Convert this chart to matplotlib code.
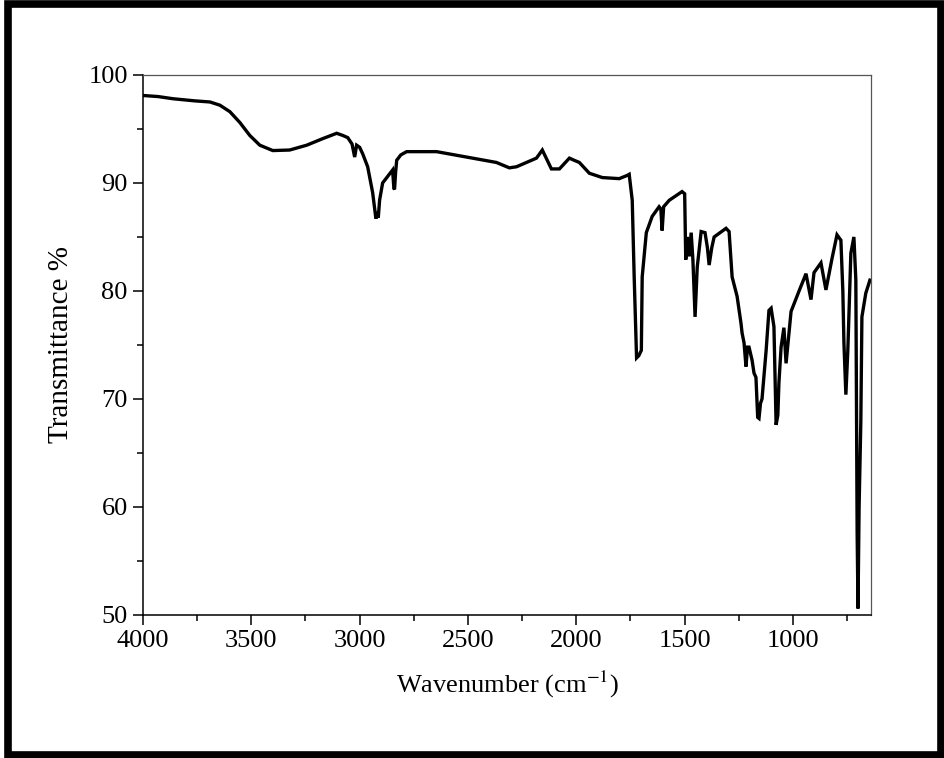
#!/usr/bin/env python3
"""FTIR spectrum: transmittance vs wavenumber."""

import matplotlib
matplotlib.use("Agg")
import matplotlib.pyplot as plt  # noqa: E402
from matplotlib.patches import Rectangle  # noqa: E402
from matplotlib.ticker import MultipleLocator  # noqa: E402


# ---------------------------------------------------------------------------
# Data
# ---------------------------------------------------------------------------

wavenumber = [
    4000, 3930, 3862, 3760, 3691, 3645, 3599, 3553, 3507, 3461,
    3401, 3323, 3244, 3171, 3106, 3078, 3055, 3035, 3023, 3014,
    3000, 2986, 2963, 2940, 2925, 2918, 2914, 2908, 2894, 2871,
    2848, 2842, 2839, 2834, 2829, 2810, 2783, 2645, 2507, 2369,
    2309, 2276, 2184, 2157, 2115, 2078, 2032, 2010, 1986, 1940,
    1880, 1802, 1765, 1756, 1742, 1733, 1722, 1712, 1700, 1696,
    1677, 1650, 1618, 1610, 1604, 1597, 1571, 1512, 1500, 1495,
    1488, 1479, 1470, 1462, 1452, 1442, 1424, 1406, 1395, 1387,
    1375, 1364, 1309, 1295, 1281, 1258, 1240, 1235, 1226, 1217,
    1210, 1203, 1189, 1180, 1171, 1163, 1157, 1150, 1143, 1124,
    1111, 1101, 1088, 1078, 1070, 1065, 1055, 1042, 1032, 1009,
    982, 972, 940, 917, 903, 871, 848, 820, 797, 779,
    770, 765, 756, 747, 733, 719, 710, 704, 700, 695,
    687, 682, 664, 650, 645,
]

transmittance = [
    98.1, 98.0, 97.8, 97.6, 97.5, 97.2, 96.6, 95.6, 94.4, 93.5,
    93.0, 93.05, 93.5, 94.1, 94.6, 94.4, 94.2, 93.6, 92.4, 93.5,
    93.3, 92.7, 91.5, 89.1, 86.7, 87.3, 86.8, 88.4, 90.0, 90.6,
    91.2, 89.5, 89.4, 91.0, 92.1, 92.6, 92.9, 92.9, 92.4, 91.9,
    91.4, 91.5, 92.3, 93.05, 91.3, 91.3, 92.3, 92.1, 91.9, 90.9,
    90.5, 90.4, 90.7, 90.8, 88.4, 81.3, 73.8, 74.0, 74.5, 81.3,
    85.4, 86.9, 87.8, 87.6, 85.6, 87.8, 88.4, 89.2, 89.0, 82.9,
    85.0, 83.2, 85.4, 82.9, 77.6, 82.2, 85.5, 85.4, 84.0, 82.4,
    84.0, 85.0, 85.8, 85.5, 81.3, 79.5, 77.0, 76.1, 75.2, 73.0,
    74.8, 74.8, 73.6, 72.4, 72.0, 68.3, 68.2, 69.6, 70.0, 74.5,
    78.2, 78.4, 76.7, 67.6, 68.5, 71.5, 74.8, 76.6, 73.3, 78.1,
    79.5, 80.0, 81.6, 79.2, 81.7, 82.6, 80.1, 83.0, 85.2, 84.7,
    80.0, 75.2, 70.4, 74.5, 83.5, 85.0, 81.0, 57.6, 50.6, 60.0,
    67.9, 77.6, 79.8, 80.7, 81.0,
]

x_ticks = [4000, 3500, 3000, 2500, 2000, 1500, 1000]
y_ticks = [50, 60, 70, 80, 90, 100]


def main():
    plt.rcParams["font.family"] = ["Liberation Serif", "DejaVu Serif"]
    plt.rcParams["mathtext.fontset"] = "stix"

    fig = plt.figure(figsize=(9.45, 7.58), dpi=100)
    ax = fig.add_axes([0.1513, 0.1887, 0.7704, 0.7124])

    ax.plot(wavenumber, transmittance, color="black", linewidth=2.4,
            solid_joinstyle="miter")

    ax.set_xlim(4000, 640)
    ax.set_ylim(50, 100)
    ax.set_xticks(x_ticks)
    ax.set_yticks(y_ticks)
    ax.xaxis.set_minor_locator(MultipleLocator(250))
    ax.yaxis.set_minor_locator(MultipleLocator(5))
    ax.tick_params(which="major", direction="out", length=7, width=1.1,
                   labelsize=19, pad=4)
    ax.tick_params(which="minor", direction="out", length=4, width=1.1)

    for side, spine in ax.spines.items():
        if side in ("top", "right"):
            spine.set_color("#555555")
            spine.set_linewidth(0.9)
        else:
            spine.set_color("black")
            spine.set_linewidth(1.1)

    ax.set_xlabel("Wavenumber (cm$^{-1}$)", fontsize=19, labelpad=12)
    ax.set_ylabel("Transmittance %", fontsize=21, labelpad=10)

    # thick frame around the whole picture
    fig.patches.append(Rectangle((0.0085, 0.004), 0.987, 0.991,
                                 transform=fig.transFigure, fill=False,
                                 edgecolor="black", linewidth=5.5))

    fig.savefig("out.png", dpi=100)
    plt.close(fig)


if __name__ == "__main__":
    main()
